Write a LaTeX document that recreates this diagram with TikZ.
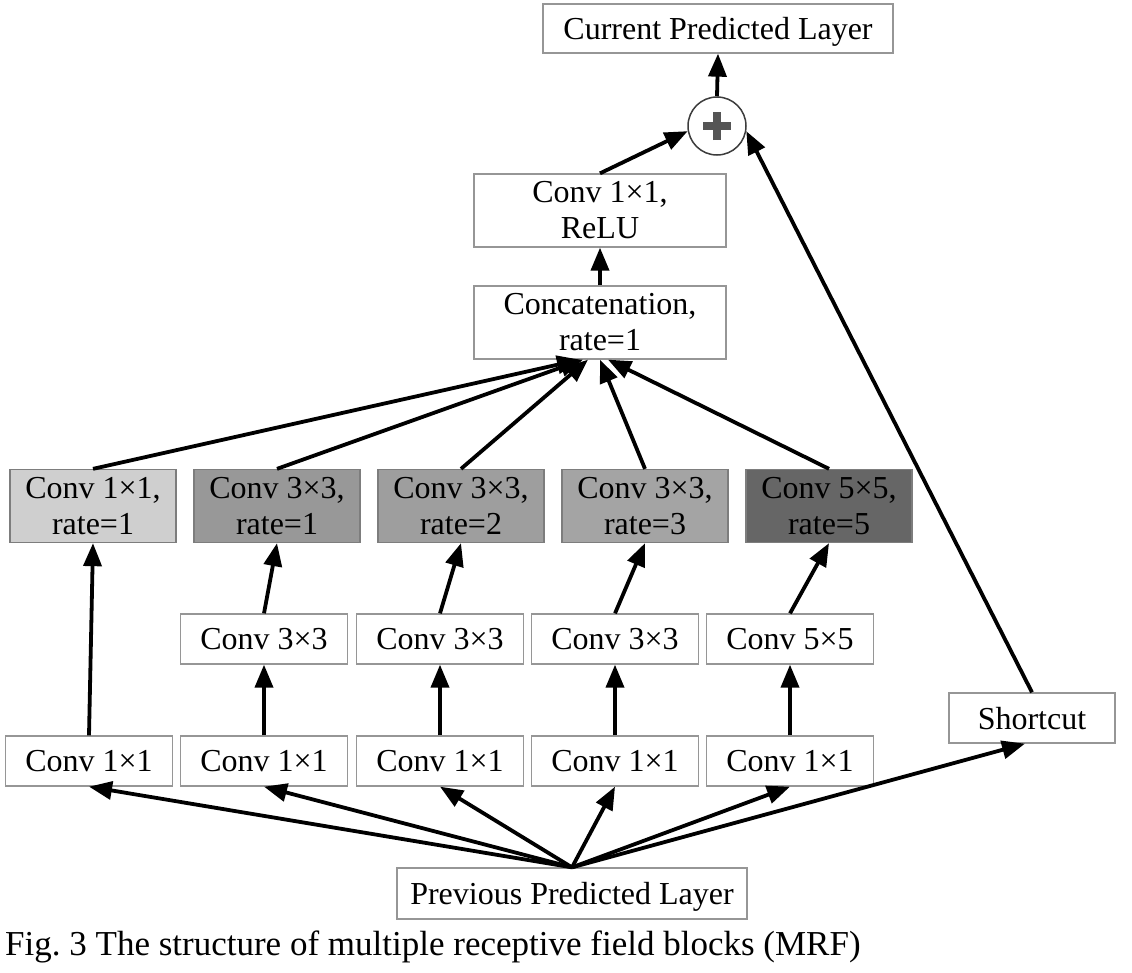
\documentclass[tikz,border=0pt]{standalone}
\usepackage{fontspec}
\setmainfont{Liberation Serif}
\usetikzlibrary{arrows.meta}
\definecolor{bordergray}{RGB}{150,150,150}
\definecolor{fillA}{RGB}{207,207,207}
\definecolor{fillB}{RGB}{152,152,152}
\definecolor{fillC}{RGB}{158,158,158}
\definecolor{fillD}{RGB}{164,164,164}
\definecolor{fillE}{RGB}{102,102,102}
\definecolor{plusgray}{RGB}{85,85,85}
\definecolor{circlegray}{RGB}{60,60,60}
\tikzset{
  box/.style={draw=bordergray, line width=1.3pt, fill=white, inner sep=0pt,
    minimum height=50pt, align=center, font=\fontsize{32}{36}\selectfont},
  oneline/.style={text depth=0pt},
  twoline/.style={minimum height=73pt},
  graybox/.style={box, twoline, minimum width=166pt, draw={rgb,255:red,125;green,125;blue,125}},
  arr/.style={line width=3.8pt, -{Triangle[length=23pt,width=18pt]}},
  plusarm/.style={plusgray, line width=7.5pt},
}
\begin{document}
\begin{tikzpicture}[x=1pt,y=-1pt]
\useasboundingbox (0,0) rectangle (1132,972);
\fill[white] (0,0) rectangle (1132,972);

% top part
\node[box, oneline, minimum width=350pt, minimum height=49pt] (cur) at (718,28.5) {Current Predicted Layer};
\node[circle, draw=circlegray, line width=1.5pt, fill=white, minimum size=58pt, inner sep=0pt] (plus) at (717,126) {};
\draw[plusarm] ([xshift=-14pt]plus.center) -- ([xshift=14pt]plus.center);
\draw[plusarm] ([yshift=-14pt]plus.center) -- ([yshift=14pt]plus.center);
\node[box, twoline, minimum width=252pt] (relu) at (600,210.5) {Conv 1×1,\\ReLU};
\node[box, twoline, minimum width=252pt] (cat) at (600,322.5) {Concatenation,\\rate=1};

% gray row
\node[graybox, fill=fillA] (g1) at (93,506) {Conv 1×1,\\rate=1};
\node[graybox, fill=fillB] (g2) at (277,506) {Conv 3×3,\\rate=1};
\node[graybox, fill=fillC] (g3) at (461,506) {Conv 3×3,\\rate=2};
\node[graybox, fill=fillD] (g4) at (645,506) {Conv 3×3,\\rate=3};
\node[graybox, fill=fillE] (g5) at (829,506) {Conv 5×5,\\rate=5};

% middle row
\node[box, oneline, minimum width=167pt] (m2) at (264,639) {Conv 3×3};
\node[box, oneline, minimum width=167pt] (m3) at (440,639) {Conv 3×3};
\node[box, oneline, minimum width=167pt] (m4) at (615,639) {Conv 3×3};
\node[box, oneline, minimum width=167pt] (m5) at (790,639) {Conv 5×5};

% bottom row
\node[box, oneline, minimum width=167pt] (b1) at (89,761) {Conv 1×1};
\node[box, oneline, minimum width=167pt] (b2) at (264,761) {Conv 1×1};
\node[box, oneline, minimum width=167pt] (b3) at (440,761) {Conv 1×1};
\node[box, oneline, minimum width=167pt] (b4) at (615,761) {Conv 1×1};
\node[box, oneline, minimum width=167pt] (b5) at (790,761) {Conv 1×1};
\node[box, oneline, minimum width=166pt] (sc) at (1032,718) {Shortcut};

\node[box, oneline, minimum width=350pt, minimum height=51pt] (prev) at (572,893.5) {Previous Predicted Layer};
\node[anchor=base west, inner sep=0pt, font=\fontsize{35}{40}\selectfont] (cap) at (5,955)
  {Fig.\ 3 The structure of multiple receptive field blocks (MRF)};

% arrows from previous layer
\draw[arr] (prev.north) -- (b1.south);
\draw[arr] (prev.north) -- (b2.south);
\draw[arr] (prev.north) -- (b3.south);
\draw[arr] (prev.north) -- (b4.south);
\draw[arr] (prev.north) -- (b5.south);
\draw[arr] (prev.north) -- ([xshift=-7pt]sc.south);

% bottom to middle
\draw[arr] (b2.north) -- (m2.south);
\draw[arr] (b3.north) -- (m3.south);
\draw[arr] (b4.north) -- (m4.south);
\draw[arr] (b5.north) -- (m5.south);

% to gray row
\draw[arr] (b1.north) -- (g1.south);
\draw[arr] (m2.north) -- (g2.south);
\draw[arr] (m3.north) -- (g3.south);
\draw[arr] (m4.north) -- (g4.south);
\draw[arr] (m5.north) -- (g5.south);

% gray row to concatenation
\draw[arr] (g1.north) -- ([xshift=-20pt]cat.south);
\draw[arr] (g2.north) -- ([xshift=-17pt]cat.south);
\draw[arr] (g3.north) -- ([xshift=-12pt]cat.south);
\draw[arr] (g4.north) -- ([xshift=0pt]cat.south);
\draw[arr] (g5.north) -- ([xshift=8pt]cat.south);

% upper part
\draw[arr] (cat.north) -- (relu.south);
\draw[arr] (relu.north) -- (plus.190);
\draw[arr] (sc.north) -- (plus.-10);
\draw[arr] (plus.north) -- (cur.south);
\end{tikzpicture}
\end{document}
